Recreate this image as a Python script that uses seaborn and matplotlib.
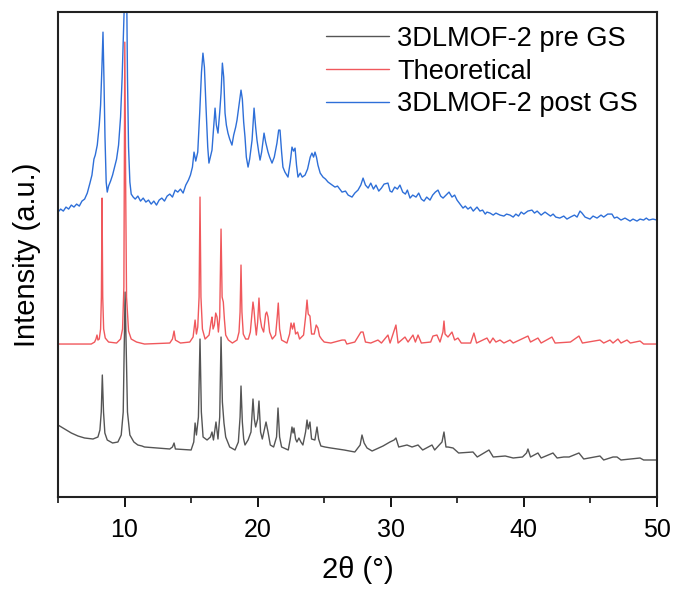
import numpy as np
import pandas as pd
import seaborn as sns
import matplotlib
matplotlib.use("Agg")
import matplotlib.pyplot as plt

# XRD traces as (2theta, intensity) vertices
# intensity in arbitrary units, stacking offsets already included

pre_tt = [5.0, 5.5, 6.0, 6.5, 7.0, 7.63, 8.0, 8.15, 8.25, 8.33, 8.42, 8.52, 8.7, 9.1, 9.5, 9.75,
          9.9, 9.98, 10.04, 10.12, 10.22, 10.4, 10.7, 11.0, 11.31, 11.5, 12.5, 13.4, 13.6, 13.72,
          13.82, 15.0, 15.2, 15.3, 15.4, 15.55, 15.67, 15.77, 15.9, 16.2, 16.45, 16.57, 16.68, 16.87,
          17.02, 17.15, 17.25, 17.35, 17.47, 17.6, 17.9, 18.3, 18.55, 18.68, 18.75, 18.85, 18.95, 19.05,
          19.28, 19.5, 19.65, 19.75, 19.85, 20.0, 20.1, 20.22, 20.35, 20.55, 20.63, 20.78, 20.95, 21.2,
          21.42, 21.53, 21.65, 21.8, 22.3, 22.45, 22.58, 22.66, 22.73, 22.85, 22.95, 23.1, 23.25, 23.4,
          23.6, 23.71, 23.8, 23.93, 24.05, 24.3, 24.46, 24.58, 24.75, 25.06, 25.5, 26.5, 27.3, 27.7,
          27.84, 28.0, 28.22, 28.6, 29.42, 29.94, 30.25, 30.39, 30.6, 31.22, 31.6, 32.05, 32.4, 33.1,
          33.3, 33.85, 34.0, 34.15, 34.3, 34.68, 35.1, 36.18, 36.5, 37.38, 37.7, 38.6, 39.2, 39.9,
          40.2, 40.31, 40.5, 41.06, 41.3, 42.19, 42.5, 43.0, 43.4, 44.14, 44.5, 45.72, 46.0, 46.7,
          47.0, 47.3, 48.73, 49.0, 50.0]
pre_int = [72, 68, 64, 61, 59, 58, 60, 67, 85, 122, 85, 64, 57, 54, 55, 62,
           85, 150, 205, 150, 85, 62, 55, 52, 51, 50, 49, 48, 50, 54,
           48, 47, 55, 74, 62, 80, 158, 85, 60, 57, 60, 65, 57, 75,
           58, 80, 160, 95, 74, 60, 50, 47, 55, 80, 111, 75, 58, 52,
           57, 65, 98, 78, 70, 78, 96, 65, 58, 70, 75, 65, 52, 50,
           60, 89, 60, 50, 47, 58, 70, 64, 69, 58, 55, 59, 55, 52,
           65, 77, 68, 75, 58, 57, 70, 58, 51, 50, 49, 47, 45, 52,
           62, 54, 49, 46, 51, 55, 57, 59, 50, 52, 50, 52, 47, 52,
           47, 55, 65, 50, 50, 49, 44, 45, 40, 47, 40, 41, 39, 40,
           44, 48, 40, 44, 39, 44, 39, 40, 40, 44, 38, 41, 37, 40,
           40, 37, 39, 37, 37]

theo_tt = [5.0, 7.5, 7.75, 7.85, 7.93, 8.0, 8.1, 8.2, 8.26, 8.31, 8.36, 8.43, 8.55, 8.8, 9.4, 9.7,
           9.85, 9.95, 10.02, 10.09, 10.15, 10.3, 10.5, 10.9, 11.5, 13.4, 13.6, 13.72, 13.82, 14.2,
           14.9, 15.15, 15.3, 15.4, 15.5, 15.6, 15.67, 15.74, 15.85, 16.05, 16.35, 16.5, 16.57, 16.65,
           16.75, 16.85, 16.95, 17.05, 17.15, 17.25, 17.33, 17.42, 17.5, 17.6, 17.8, 18.1, 18.45, 18.6,
           18.68, 18.75, 18.82, 18.92, 19.1, 19.3, 19.45, 19.55, 19.65, 19.72, 19.8, 19.9, 20.0, 20.1,
           20.18, 20.3, 20.45, 20.6, 20.68, 20.78, 20.9, 21.1, 21.35, 21.47, 21.55, 21.65, 21.8, 22.2,
           22.4, 22.51, 22.62, 22.73, 22.85, 23.0, 23.15, 23.45, 23.6, 23.71, 23.8, 23.93, 24.05, 24.25,
           24.4, 24.53, 24.65, 24.8, 25.0, 25.5, 26.34, 26.56, 26.7, 27.3, 27.76, 27.92, 28.1, 28.5,
           29.04, 29.3, 29.79, 29.95, 30.39, 30.55, 31.07, 31.3, 31.67, 31.85, 32.05, 32.3, 33.0, 33.17,
           33.47, 33.7, 33.92, 34.0, 34.08, 34.3, 34.6, 34.8, 35.05, 35.3, 36.0, 36.25, 36.45, 37.23,
           37.45, 37.68, 37.9, 38.21, 38.5, 38.96, 39.2, 40.31, 40.5, 41.06, 41.3, 42.11, 42.35, 43.5,
           44.14, 44.4, 45.72, 46.0, 46.47, 46.7, 47.07, 47.3, 47.75, 48.0, 48.73, 49.0, 50.0]
theo_int = [153, 153, 155, 158, 162, 157, 158, 168, 200, 299, 200, 168, 159, 155, 154, 158,
            168, 210, 455, 300, 200, 166, 158, 155, 153, 154, 158, 166, 157, 154,
            155, 160, 177, 163, 170, 200, 300, 200, 168, 158, 162, 175, 180, 168,
            172, 184, 180, 165, 180, 268, 200, 195, 178, 162, 157, 154, 157, 165,
            185, 232, 185, 163, 158, 158, 165, 180, 195, 188, 175, 162, 175, 199,
            180, 170, 165, 183, 185, 180, 165, 158, 162, 180, 194, 168, 157, 154,
            163, 174, 168, 174, 163, 165, 158, 162, 180, 197, 183, 181, 163, 163,
            172, 169, 161, 158, 155, 154, 157, 157, 153, 155, 165, 165, 155, 154,
            157, 154, 162, 154, 172, 154, 160, 155, 162, 155, 162, 154, 155, 161,
            162, 155, 165, 176, 163, 160, 165, 157, 159, 154, 154, 164, 154, 159,
            154, 159, 155, 157, 154, 157, 154, 161, 155, 159, 154, 160, 154, 155,
            161, 154, 157, 154, 157, 154, 158, 154, 157, 154, 156, 153, 153]

post_tt = [5.0, 5.2, 5.4, 5.6, 5.8, 6.0, 6.2, 6.4, 6.6, 6.8, 7.0, 7.2, 7.4, 7.55, 7.7, 7.8,
           7.95, 8.1, 8.2, 8.3, 8.38, 8.45, 8.53, 8.62, 8.7, 8.8, 8.95, 9.1, 9.25, 9.4, 9.55, 9.7,
           9.82, 9.95, 10.05, 10.15, 10.22, 10.3, 10.4, 10.5, 10.65, 10.8, 11.0, 11.2, 11.4, 11.6,
           11.8, 12.0, 12.2, 12.4, 12.6, 12.8, 13.0, 13.2, 13.4, 13.6, 13.8, 14.0, 14.2, 14.4,
           14.6, 14.8, 14.95, 15.1, 15.22, 15.35, 15.5, 15.65, 15.78, 15.89, 16.0, 16.12, 16.25, 16.34,
           16.45, 16.57, 16.7, 16.8, 16.9, 17.02, 17.15, 17.25, 17.35, 17.45, 17.55, 17.65, 17.77, 17.9,
           18.07, 18.2, 18.35, 18.45, 18.6, 18.75, 18.85, 18.95, 19.05, 19.15, 19.28, 19.4, 19.58, 19.73,
           19.85, 19.95, 20.08, 20.18, 20.3, 20.48, 20.6, 20.78, 20.9, 21.08, 21.25, 21.45, 21.58, 21.68,
           21.8, 21.9, 22.05, 22.28, 22.45, 22.58, 22.7, 22.81, 22.92, 23.03, 23.2, 23.35, 23.56, 23.75,
           23.95, 24.08, 24.2, 24.31, 24.42, 24.53, 24.7, 24.91, 25.1, 25.29, 25.5, 25.81, 26.0, 26.34,
           26.6, 26.8, 27.09, 27.3, 27.54, 27.75, 27.92, 28.1, 28.3, 28.5, 28.7, 28.89, 29.1, 29.3,
           29.5, 29.79, 29.95, 30.09, 30.3, 30.5, 30.69, 30.9, 31.1, 31.25, 31.45, 31.65, 31.9, 32.1,
           32.3, 32.5, 32.7, 32.95, 33.15, 33.35, 33.55, 33.75, 33.93, 34.15, 34.38, 34.6, 34.8, 34.98,
           35.2, 35.43, 35.6, 35.8, 36.0, 36.2, 36.48, 36.7, 36.9, 37.1, 37.23, 37.46, 37.7, 37.9,
           38.21, 38.5, 38.7, 38.96, 39.2, 39.4, 39.6, 39.8, 40.0, 40.3, 40.61, 40.8, 41.0, 41.3,
           41.59, 41.8, 42.0, 42.2, 42.4, 42.7, 43.0, 43.24, 43.5, 43.8, 44.0, 44.22, 44.37, 44.6,
           44.97, 45.2, 45.5, 45.8, 46.0, 46.3, 46.62, 46.8, 47.0, 47.3, 47.6, 47.98, 48.2, 48.5,
           48.73, 49.0, 49.2, 49.4, 49.7, 50.0]
post_int = [285, 288, 286, 290, 288, 292, 290, 293, 291, 296, 298, 304, 314, 322, 338, 342,
            352, 372, 392, 430, 465, 420, 360, 315, 305, 311, 316, 322, 330, 338, 352, 380,
            420, 480, 520, 520, 420, 350, 315, 303, 300, 298, 301, 296, 299, 295,
            297, 293, 296, 292, 297, 299, 296, 301, 303, 300, 307, 305, 308, 304,
            312, 317, 322, 330, 345, 336, 345, 385, 425, 444, 430, 390, 350, 334,
            340, 347, 370, 389, 372, 364, 385, 404, 434, 420, 384, 372, 364, 358,
            352, 362, 370, 377, 392, 407, 398, 375, 360, 340, 330, 338, 357, 389,
            370, 357, 345, 337, 345, 364, 355, 345, 340, 334, 340, 354, 367, 367,
            345, 330, 325, 320, 335, 350, 346, 349, 332, 320, 324, 320, 322, 328,
            340, 344, 340, 345, 340, 332, 324, 320, 318, 315, 313, 310, 311, 305,
            306, 302, 300, 304, 307, 312, 319, 312, 309, 314, 308, 312, 306, 309,
            313, 314, 306, 305, 310, 308, 312, 305, 303, 307, 299, 302, 300, 304,
            298, 296, 300, 297, 302, 305, 307, 301, 299, 302, 305, 300, 302, 297,
            293, 289, 291, 288, 290, 286, 290, 286, 287, 283, 285, 284, 282, 284,
            282, 281, 283, 282, 280, 283, 281, 285, 283, 286, 287, 284, 286, 282,
            285, 283, 281, 283, 280, 279, 281, 278, 280, 282, 280, 286, 284, 280,
            278, 281, 279, 282, 280, 283, 283, 279, 280, 277, 279, 276, 278, 276,
            278, 277, 279, 277, 278, 277]

series_names = ["3DLMOF-2 pre GS", "Theoretical", "3DLMOF-2 post GS"]
series_colors = ["#555555", "#f0585c", "#2e6fd8"]

sns.set_style("ticks")
plt.rcParams["font.family"] = ["Liberation Sans", "DejaVu Sans"]
plt.rcParams["text.color"] = "black"
plt.rcParams["axes.labelcolor"] = "black"
plt.rcParams["xtick.color"] = "black"

fig = plt.figure(figsize=(6.76, 5.92), dpi=100)
ax = fig.add_axes([0.0858, 0.1605, 0.886, 0.819])

for tt, inten, name, col in zip([pre_tt, theo_tt, post_tt], [pre_int, theo_int, post_int],
                                series_names, series_colors):
    df = pd.DataFrame({"tt": tt, "I": inten})
    sns.lineplot(data=df, x="tt", y="I", ax=ax, color=col, linewidth=1.0,
                 estimator=None, sort=False, label=name)

ax.set_xlim(5, 50)
ax.set_ylim(0, 485)
ax.set_xticks([10, 20, 30, 40, 50])
ax.set_xticks([5, 15, 25, 35, 45], minor=True)
ax.set_yticks([])
ax.tick_params(axis="x", which="major", direction="out", length=7, width=1.3, labelsize=18, pad=8)
ax.tick_params(axis="x", which="minor", direction="out", length=4, width=1.1)
for sp in ax.spines.values():
    sp.set_visible(True)
    sp.set_linewidth(1.5)
    sp.set_color("#222222")

ax.set_xlabel("2θ (°)", fontsize=21, labelpad=10)
ax.set_ylabel("Intensity (a.u.)", fontsize=21, labelpad=12)

leg = ax.legend(loc="upper right", bbox_to_anchor=(0.991, 1.0), frameon=False, fontsize=19.6,
                handlelength=2.3, handletextpad=0.3, labelspacing=0.25, borderaxespad=0.1)
for h in leg.get_lines():
    h.set_linewidth(1.0)

fig.savefig("out.png", dpi=100)
